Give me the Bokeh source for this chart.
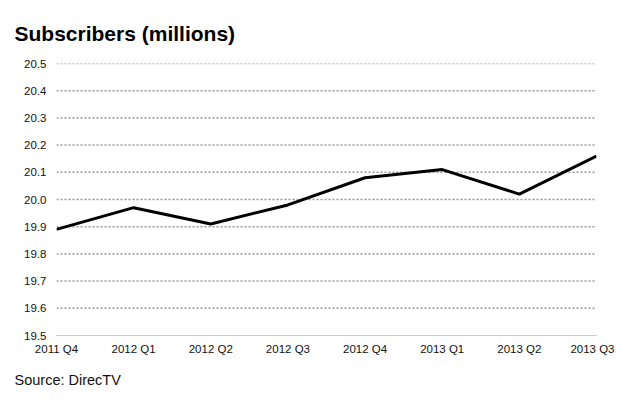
from bokeh.plotting import figure
from bokeh.models import Range1d, FixedTicker, Title, ColumnDataSource
from bokeh.embed import file_html
from bokeh.resources import INLINE

quarters = ["2011 Q4", "2012 Q1", "2012 Q2", "2012 Q3", "2012 Q4", "2013 Q1", "2013 Q2", "2013 Q3"]
subscribers = [19.89, 19.97, 19.91, 19.98, 20.08, 20.11, 20.02, 20.16]
y_ticks = [19.5, 19.6, 19.7, 19.8, 19.9, 20.0, 20.1, 20.2, 20.3, 20.4, 20.5]

FONT = "Liberation Sans"
idx = list(range(len(quarters)))

p = figure(width=614, height=400, output_backend="svg", toolbar_location=None,
           x_range=Range1d(0, len(quarters) - 1), y_range=Range1d(19.5, 20.5),
           min_border_left=56, min_border_right=18, min_border_top=63, min_border_bottom=65)
p.outline_line_color = None
p.background_fill_color = "white"
p.border_fill_color = "white"

# axes
p.xaxis.ticker = FixedTicker(ticks=idx)
p.xaxis.major_label_overrides = {i: q for i, q in enumerate(quarters)}
p.xaxis.axis_line_color = None
p.xaxis.major_tick_line_color = None
p.xaxis.minor_tick_line_color = None
p.xaxis.major_label_text_font = FONT
p.xaxis.major_label_text_font_size = "11.5px"
p.xaxis.major_label_text_color = "#111111"
p.xaxis.major_label_standoff = 1

p.yaxis.ticker = FixedTicker(ticks=y_ticks)
p.yaxis.major_label_overrides = {t: f"{t:.1f}" for t in y_ticks}
p.yaxis.axis_line_color = None
p.yaxis.major_tick_line_color = None
p.yaxis.minor_tick_line_color = None
p.yaxis.major_label_text_font = FONT
p.yaxis.major_label_text_font_size = "11.5px"
p.yaxis.major_label_text_color = "#111111"
p.yaxis.major_label_standoff = 4

p.xgrid.grid_line_color = None
p.ygrid.grid_line_color = None

# dotted horizontal gridlines
grid_vals = y_ticks[1:]
p.multi_line(xs=[[idx[0], idx[-1]] for _ in grid_vals], ys=[[v, v] for v in grid_vals],
             line_color="#999999", line_dash="2 2", line_width=1.5)

# baseline (dotted, darker) with end ticks
p.line(x=[idx[0], idx[-1]], y=[y_ticks[0], y_ticks[0]], line_color="#333333",
       line_dash="1 1", line_width=1)
p.segment(x0=[idx[0], idx[-1]], y0=[y_ticks[0], y_ticks[0]],
          x1=[idx[0], idx[-1]], y1=[y_ticks[0] - 0.02, y_ticks[0] - 0.02],
          line_color="#111111", line_width=1.2)

src = ColumnDataSource(dict(x=idx, y=subscribers))
p.line("x", "y", source=src, line_color="black", line_width=3)

title = Title(text="Subscribers (millions)", align="left", offset=-42,
              text_font=FONT, text_font_size="21px", text_font_style="bold",
              text_color="black", standoff=34, vertical_align="top",
              text_line_height=1.4)
p.add_layout(title, "above")

source_t = Title(text="Source: DirecTV", align="left", offset=-42,
                 text_font=FONT, text_font_size="14.5px", text_font_style="normal",
                 text_color="#111111", standoff=25)
p.add_layout(source_t, "below")

open("out.html", "w").write(file_html(p, INLINE))
